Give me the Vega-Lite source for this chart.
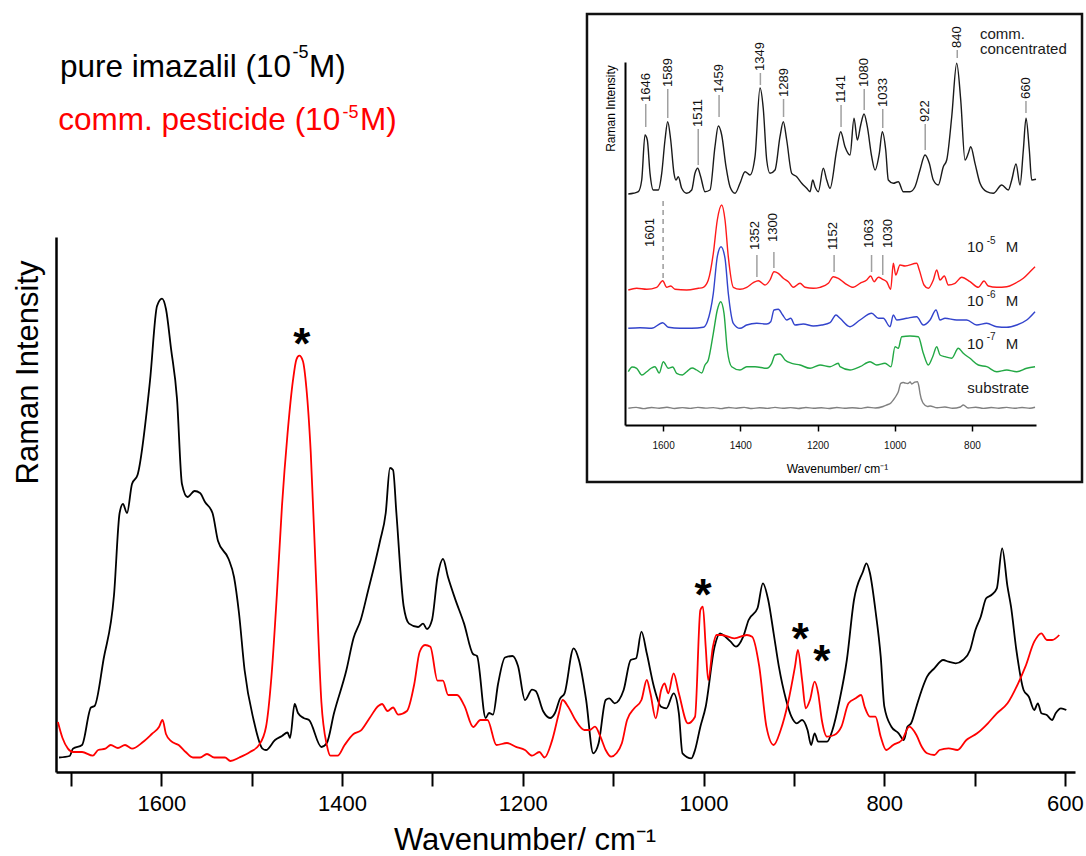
{
  "$schema": "https://vega.github.io/schema/vega-lite/v6.json",
  "background": "white",
  "padding": {"left": 12, "top": 12, "right": 0, "bottom": 0},
  "autosize": {"type": "pad"},
  "config": {"view": {"stroke": null}, "font": "Liberation Sans"},
  "bounds": "flush",
  "spacing": 175,
  "resolve": {"scale": {"color": "independent"}},
  "datasets": {
    "legendMain": [
      {"s": "imazalil", "t": "pure imazalil (10", "x": 4, "y": 348.3},
      {"s": "imazalil", "t": "M)", "x": 253, "y": 348.3},
      {"s": "pesticide", "t": "comm. pesticide (10", "x": 2.3, "y": 295},
      {"s": "pesticide", "t": "M)", "x": 304, "y": 295}
    ],
    "legendSup": [
      {"s": "imazalil", "t": "-5", "x": 236.5, "y": 367},
      {"s": "pesticide", "t": "-5", "x": 286.5, "y": 307}
    ],
    "box": [{"w": 1797.2, "w2": 514.8, "J": -57, "J2": 411}],
    "dash": [{"w": 1600, "J": 147, "J2": 228}],
    "ticks": [
      {"w": 1645, "J": 298, "J2": 321}, {"w": 1588, "J": 307, "J2": 336}, {"w": 1509, "J": 260, "J2": 296},
      {"w": 1455, "J": 308, "J2": 330}, {"w": 1348, "J": 340, "J2": 352}, {"w": 1288, "J": 308, "J2": 326},
      {"w": 1139, "J": 298, "J2": 320}, {"w": 1079, "J": 315, "J2": 336}, {"w": 1031, "J": 297, "J2": 316},
      {"w": 921, "J": 275, "J2": 301}, {"w": 838, "J": 367, "J2": 375}, {"w": 660, "J": 312, "J2": 324},
      {"w": 1357, "J": 148, "J2": 170}, {"w": 1313, "J": 157, "J2": 173}, {"w": 1157, "J": 153, "J2": 170},
      {"w": 1060, "J": 153, "J2": 170}, {"w": 1031, "J": 150, "J2": 170}
    ],
    "peaks": [
      {"t": "1646", "w": 1645, "J": 323}, {"t": "1589", "w": 1588, "J": 338}, {"t": "1511", "w": 1509, "J": 298},
      {"t": "1459", "w": 1455, "J": 332}, {"t": "1349", "w": 1348, "J": 354}, {"t": "1289", "w": 1288, "J": 328},
      {"t": "1141", "w": 1139, "J": 322}, {"t": "1080", "w": 1079, "J": 338}, {"t": "1033", "w": 1031, "J": 318},
      {"t": "922", "w": 921, "J": 303}, {"t": "840", "w": 838, "J": 377}, {"t": "660", "w": 660, "J": 326},
      {"t": "1601", "w": 1634, "J": 178}, {"t": "1352", "w": 1362, "J": 175}, {"t": "1300", "w": 1315, "J": 183},
      {"t": "1152", "w": 1160, "J": 175}, {"t": "1063", "w": 1066, "J": 177}, {"t": "1030", "w": 1017, "J": 177}
    ],
    "ann": [
      {"t": "comm.", "w": 779, "J": 386}, {"t": "concentrated", "w": 779, "J": 371},
      {"t": "10", "w": 812.7, "J": 173}, {"t": "M", "w": 712.4, "J": 173},
      {"t": "10", "w": 812.7, "J": 119}, {"t": "M", "w": 712.4, "J": 119},
      {"t": "10", "w": 812.7, "J": 76.4}, {"t": "M", "w": 712.4, "J": 76.4},
      {"t": "substrate", "w": 812, "J": 32}
    ],
    "sup": [
      {"t": "-5", "w": 761.6, "J": 181.5}, {"t": "-6", "w": 761.6, "J": 127.5}, {"t": "-7", "w": 761.6, "J": 85}
    ],
    "stars": [
      {"w": 1444.7, "I": 448}, {"w": 1000.6, "I": 196.6}, {"w": 892.8, "I": 153}, {"w": 869.1, "I": 130.6}
    ],
    "inset": [
      {"s":"c","w":1690.2,"J":231},{"s":"c","w":1677.2,"J":231.7},{"s":"c","w":1664.2,"J":233.3},{"s":"c","w":1655.4,"J":245},{"s":"c","w":1646.9,"J":290},{"s":"c","w":1640.9,"J":285},{"s":"c","w":1633.9,"J":251.7},{"s":"c","w":1625.4,"J":235},{"s":"c","w":1612.4,"J":235},{"s":"c","w":1603.6,"J":251.7},{"s":"c","w":1595.1,"J":285},{"s":"c","w":1588.1,"J":303.3},{"s":"c","w":1580.3,"J":285},{"s":"c","w":1571.8,"J":251.7},{"s":"c","w":1566.6,"J":245},{"s":"c","w":1560.6,"J":248.3},{"s":"c","w":1551.8,"J":236.7},{"s":"c","w":1538.9,"J":231.7},{"s":"c","w":1525.9,"J":235},{"s":"c","w":1517.4,"J":251.7},{"s":"c","w":1510.4,"J":256.7},{"s":"c","w":1502.6,"J":248.3},{"s":"c","w":1491.5,"J":233.3},{"s":"c","w":1478.5,"J":235},{"s":"c","w":1465.6,"J":278.3},{"s":"c","w":1457,"J":299},{"s":"c","w":1448.2,"J":290},{"s":"c","w":1437,"J":258.3},{"s":"c","w":1426.7,"J":238.3},{"s":"c","w":1413.7,"J":231.7},{"s":"c","w":1400.8,"J":241.7},{"s":"c","w":1387.8,"J":253.3},{"s":"c","w":1374.9,"J":250},{"s":"c","w":1361.9,"J":268.3},{"s":"c","w":1349,"J":337},{"s":"c","w":1340.4,"J":316},{"s":"c","w":1331.6,"J":265},{"s":"c","w":1323.1,"J":251.7},{"s":"c","w":1310.1,"J":255},{"s":"c","w":1297.2,"J":288.3},{"s":"c","w":1288.6,"J":303.3},{"s":"c","w":1279.8,"J":285},{"s":"c","w":1266.8,"J":251.7},{"s":"c","w":1253.9,"J":248.3},{"s":"c","w":1240.9,"J":241.7},{"s":"c","w":1228,"J":236.7},{"s":"c","w":1219.4,"J":233.3},{"s":"c","w":1212.4,"J":245},{"s":"c","w":1206.5,"J":238.3},{"s":"c","w":1197.9,"J":233.3},{"s":"c","w":1185,"J":256.7},{"s":"c","w":1176.2,"J":245},{"s":"c","w":1167.6,"J":236.7},{"s":"c","w":1150.3,"J":275},{"s":"c","w":1139.9,"J":293.3},{"s":"c","w":1128.8,"J":278.3},{"s":"c","w":1115.8,"J":270},{"s":"c","w":1105.4,"J":306.7},{"s":"c","w":1096.9,"J":285},{"s":"c","w":1088.1,"J":300},{"s":"c","w":1079.5,"J":311},{"s":"c","w":1071,"J":298.3},{"s":"c","w":1059.6,"J":268.3},{"s":"c","w":1051,"J":255},{"s":"c","w":1039.9,"J":271.7},{"s":"c","w":1032.1,"J":293.3},{"s":"c","w":1023.3,"J":275},{"s":"c","w":1016.6,"J":245},{"s":"c","w":1003.6,"J":241.7},{"s":"c","w":990.7,"J":243.3},{"s":"c","w":977.7,"J":233.3},{"s":"c","w":960.4,"J":233.3},{"s":"c","w":947.4,"J":238.3},{"s":"c","w":934.5,"J":255},{"s":"c","w":921.5,"J":270},{"s":"c","w":910.4,"J":261.7},{"s":"c","w":900,"J":245},{"s":"c","w":887.1,"J":240},{"s":"c","w":874.1,"J":258.3},{"s":"c","w":865.3,"J":265},{"s":"c","w":852.3,"J":308.3},{"s":"c","w":839.4,"J":361.7},{"s":"c","w":829,"J":325},{"s":"c","w":817.9,"J":265},{"s":"c","w":809.3,"J":271.7},{"s":"c","w":803.1,"J":278.3},{"s":"c","w":792,"J":261.7},{"s":"c","w":779,"J":241.7},{"s":"c","w":761.7,"J":233.3},{"s":"c","w":744.5,"J":231.7},{"s":"c","w":722.8,"J":240},{"s":"c","w":705.7,"J":235},{"s":"c","w":696.9,"J":245},{"s":"c","w":685.8,"J":261},{"s":"c","w":675.4,"J":240},{"s":"c","w":666.8,"J":275},{"s":"c","w":659.9,"J":306.7},{"s":"c","w":651.3,"J":275},{"s":"c","w":645.1,"J":245},{"s":"c","w":634,"J":245.7},
      {"s":"m5","w":1690.2,"J":135},{"s":"m5","w":1668.4,"J":136.7},{"s":"m5","w":1642.5,"J":135.7},{"s":"m5","w":1616.6,"J":137.7},{"s":"m5","w":1601,"J":144.3},{"s":"m5","w":1590.7,"J":137.7},{"s":"m5","w":1580.3,"J":139},{"s":"m5","w":1569.2,"J":135.7},{"s":"m5","w":1538.9,"J":135},{"s":"m5","w":1508.8,"J":136.7},{"s":"m5","w":1495.9,"J":137.7},{"s":"m5","w":1482.9,"J":145},{"s":"m5","w":1469.9,"J":171.7},{"s":"m5","w":1459.6,"J":205},{"s":"m5","w":1448.2,"J":220},{"s":"m5","w":1439.6,"J":205},{"s":"m5","w":1431.1,"J":168.3},{"s":"m5","w":1418.1,"J":137.7},{"s":"m5","w":1400.8,"J":135.7},{"s":"m5","w":1383.4,"J":137.7},{"s":"m5","w":1366.3,"J":142.3},{"s":"m5","w":1353.4,"J":144.3},{"s":"m5","w":1336,"J":140},{"s":"m5","w":1323.1,"J":145},{"s":"m5","w":1312.7,"J":153.3},{"s":"m5","w":1301.6,"J":151.7},{"s":"m5","w":1288.6,"J":146.7},{"s":"m5","w":1275.6,"J":143.3},{"s":"m5","w":1262.7,"J":137.7},{"s":"m5","w":1245.3,"J":141.7},{"s":"m5","w":1232.4,"J":137.7},{"s":"m5","w":1210.9,"J":136.7},{"s":"m5","w":1193.5,"J":137.7},{"s":"m5","w":1172,"J":141.7},{"s":"m5","w":1159.1,"J":148.3},{"s":"m5","w":1146.1,"J":146.7},{"s":"m5","w":1128.8,"J":141.7},{"s":"m5","w":1107.3,"J":137.7},{"s":"m5","w":1089.9,"J":141.7},{"s":"m5","w":1072.5,"J":145},{"s":"m5","w":1062.2,"J":149},{"s":"m5","w":1053.6,"J":143.3},{"s":"m5","w":1042.5,"J":147.7},{"s":"m5","w":1031.1,"J":145.7},{"s":"m5","w":1020.7,"J":143.3},{"s":"m5","w":1010.4,"J":135.7},{"s":"m5","w":1003.6,"J":161.7},{"s":"m5","w":997.4,"J":150},{"s":"m5","w":986.3,"J":160},{"s":"m5","w":973.3,"J":159},{"s":"m5","w":943,"J":161.7},{"s":"m5","w":936.3,"J":155},{"s":"m5","w":924.1,"J":140},{"s":"m5","w":913,"J":136.7},{"s":"m5","w":900,"J":145},{"s":"m5","w":891.2,"J":155},{"s":"m5","w":882.6,"J":145},{"s":"m5","w":871.5,"J":149},{"s":"m5","w":861.1,"J":140},{"s":"m5","w":843.8,"J":141.7},{"s":"m5","w":826.4,"J":147.7},{"s":"m5","w":804.9,"J":143.3},{"s":"m5","w":783.4,"J":137.7},{"s":"m5","w":768.6,"J":144},{"s":"m5","w":757.5,"J":139},{"s":"m5","w":735.7,"J":137.7},{"s":"m5","w":709.8,"J":138.3},{"s":"m5","w":688.3,"J":141.7},{"s":"m5","w":666.8,"J":146.7},{"s":"m5","w":649.5,"J":153.3},{"s":"m5","w":636.5,"J":158.3},
      {"s":"m6","w":1690.2,"J":96.7},{"s":"m6","w":1659.8,"J":97.3},{"s":"m6","w":1629.5,"J":96.7},{"s":"m6","w":1601,"J":102.3},{"s":"m6","w":1586.5,"J":97.7},{"s":"m6","w":1556.2,"J":96.7},{"s":"m6","w":1525.9,"J":96.7},{"s":"m6","w":1495.9,"J":97.7},{"s":"m6","w":1485.5,"J":103.3},{"s":"m6","w":1469.9,"J":131.7},{"s":"m6","w":1459.6,"J":168.3},{"s":"m6","w":1450,"J":178.3},{"s":"m6","w":1439.6,"J":166.7},{"s":"m6","w":1431.1,"J":131.7},{"s":"m6","w":1418.1,"J":101.7},{"s":"m6","w":1400.8,"J":96.7},{"s":"m6","w":1383.4,"J":100},{"s":"m6","w":1357.5,"J":101.7},{"s":"m6","w":1331.6,"J":101},{"s":"m6","w":1321.2,"J":103.3},{"s":"m6","w":1312.7,"J":115},{"s":"m6","w":1301.6,"J":115.7},{"s":"m6","w":1290.2,"J":110},{"s":"m6","w":1279.8,"J":105},{"s":"m6","w":1269.4,"J":106.7},{"s":"m6","w":1258.3,"J":100},{"s":"m6","w":1236.8,"J":101},{"s":"m6","w":1210.9,"J":99},{"s":"m6","w":1189.1,"J":100},{"s":"m6","w":1167.6,"J":102.3},{"s":"m6","w":1152.1,"J":110},{"s":"m6","w":1141.7,"J":106.7},{"s":"m6","w":1115.8,"J":98.3},{"s":"m6","w":1089.9,"J":105},{"s":"m6","w":1059.6,"J":111.7},{"s":"m6","w":1042.5,"J":106.7},{"s":"m6","w":1029.5,"J":106.7},{"s":"m6","w":1012.2,"J":98.3},{"s":"m6","w":1003.6,"J":110},{"s":"m6","w":994.8,"J":105},{"s":"m6","w":968.9,"J":106.7},{"s":"m6","w":943,"J":108.3},{"s":"m6","w":925.9,"J":100},{"s":"m6","w":908.5,"J":105},{"s":"m6","w":893,"J":115},{"s":"m6","w":882.6,"J":105},{"s":"m6","w":869.7,"J":106.7},{"s":"m6","w":839.4,"J":105},{"s":"m6","w":813.5,"J":105},{"s":"m6","w":787.6,"J":100},{"s":"m6","w":761.7,"J":101.7},{"s":"m6","w":735.7,"J":98.3},{"s":"m6","w":709.8,"J":97.7},{"s":"m6","w":683.9,"J":100},{"s":"m6","w":658,"J":105},{"s":"m6","w":636.5,"J":113.3},
      {"s":"m7","w":1690.2,"J":53.3},{"s":"m7","w":1680,"J":58},{"s":"m7","w":1668.4,"J":56.7},{"s":"m7","w":1655,"J":50},{"s":"m7","w":1642.5,"J":53.3},{"s":"m7","w":1630,"J":57},{"s":"m7","w":1621,"J":58.3},{"s":"m7","w":1610,"J":52},{"s":"m7","w":1599.5,"J":63.3},{"s":"m7","w":1586.5,"J":56.7},{"s":"m7","w":1575,"J":58},{"s":"m7","w":1564.8,"J":51.7},{"s":"m7","w":1550,"J":50},{"s":"m7","w":1538.9,"J":53.3},{"s":"m7","w":1525,"J":57},{"s":"m7","w":1513,"J":55},{"s":"m7","w":1500,"J":52},{"s":"m7","w":1491.5,"J":60},{"s":"m7","w":1482.9,"J":65},{"s":"m7","w":1469.9,"J":91.7},{"s":"m7","w":1459.6,"J":115},{"s":"m7","w":1450.8,"J":123.3},{"s":"m7","w":1442.2,"J":111.7},{"s":"m7","w":1433.7,"J":75},{"s":"m7","w":1422.3,"J":58.3},{"s":"m7","w":1400.8,"J":55},{"s":"m7","w":1383.4,"J":58.3},{"s":"m7","w":1361.9,"J":58.3},{"s":"m7","w":1331.6,"J":56.7},{"s":"m7","w":1318.7,"J":61.7},{"s":"m7","w":1310.1,"J":70},{"s":"m7","w":1297.2,"J":71},{"s":"m7","w":1284.2,"J":65},{"s":"m7","w":1266.8,"J":61.7},{"s":"m7","w":1245.3,"J":60},{"s":"m7","w":1219.4,"J":56.7},{"s":"m7","w":1193.5,"J":60},{"s":"m7","w":1167.6,"J":58.3},{"s":"m7","w":1146.1,"J":61.7},{"s":"m7","w":1141.7,"J":58.3},{"s":"m7","w":1115.8,"J":55},{"s":"m7","w":1089.9,"J":58.3},{"s":"m7","w":1064,"J":63.3},{"s":"m7","w":1046.6,"J":60},{"s":"m7","w":1025.1,"J":61.7},{"s":"m7","w":1009.6,"J":58.3},{"s":"m7","w":999.2,"J":78.3},{"s":"m7","w":990.7,"J":76.7},{"s":"m7","w":981.9,"J":88.3},{"s":"m7","w":960.4,"J":89},{"s":"m7","w":938.9,"J":88.3},{"s":"m7","w":925.9,"J":71.7},{"s":"m7","w":913,"J":60},{"s":"m7","w":901.6,"J":68.3},{"s":"m7","w":891.2,"J":78.3},{"s":"m7","w":882.6,"J":70},{"s":"m7","w":869.7,"J":68.3},{"s":"m7","w":852.3,"J":66.7},{"s":"m7","w":835.2,"J":76.7},{"s":"m7","w":822.3,"J":71.7},{"s":"m7","w":805,"J":66.7},{"s":"m7","w":783.4,"J":60},{"s":"m7","w":761.7,"J":58.3},{"s":"m7","w":735.7,"J":53.3},{"s":"m7","w":709.8,"J":55},{"s":"m7","w":683.9,"J":53.3},{"s":"m7","w":658,"J":56.7},{"s":"m7","w":636.5,"J":58.3},
      {"s":"sub","w":1690,"J":16.7},{"s":"sub","w":1670,"J":17.6},{"s":"sub","w":1650,"J":16.4},{"s":"sub","w":1630,"J":17.5},{"s":"sub","w":1610,"J":16.8},{"s":"sub","w":1590,"J":17.7},{"s":"sub","w":1570,"J":16.5},{"s":"sub","w":1550,"J":17.4},{"s":"sub","w":1530,"J":16.6},{"s":"sub","w":1510,"J":17.6},{"s":"sub","w":1490,"J":16.9},{"s":"sub","w":1470,"J":17.4},{"s":"sub","w":1450,"J":16.4},{"s":"sub","w":1430,"J":17.5},{"s":"sub","w":1410,"J":16.8},{"s":"sub","w":1390,"J":17.6},{"s":"sub","w":1370,"J":16.5},{"s":"sub","w":1350,"J":17.3},{"s":"sub","w":1330,"J":16.6},{"s":"sub","w":1310,"J":17.6},{"s":"sub","w":1290,"J":16.7},{"s":"sub","w":1270,"J":17.4},{"s":"sub","w":1250,"J":16.5},{"s":"sub","w":1230,"J":17.5},{"s":"sub","w":1210,"J":16.8},{"s":"sub","w":1190,"J":17.3},{"s":"sub","w":1170,"J":16.5},{"s":"sub","w":1150,"J":17.5},{"s":"sub","w":1130,"J":16.7},{"s":"sub","w":1110,"J":17.3},{"s":"sub","w":1090,"J":16.6},{"s":"sub","w":1070,"J":17.7},{"s":"sub","w":1050,"J":17},{"s":"sub","w":1030,"J":18.5},{"s":"sub","w":1020.7,"J":20},{"s":"sub","w":1010,"J":22},{"s":"sub","w":1003.6,"J":25},{"s":"sub","w":995,"J":30},{"s":"sub","w":990.7,"J":33.3},{"s":"sub","w":984.4,"J":41.7},{"s":"sub","w":978,"J":42.5},{"s":"sub","w":973.3,"J":42},{"s":"sub","w":966,"J":41.5},{"s":"sub","w":960,"J":43},{"s":"sub","w":955.9,"J":41},{"s":"sub","w":948,"J":42.8},{"s":"sub","w":941.4,"J":43.3},{"s":"sub","w":937,"J":38},{"s":"sub","w":934.5,"J":31.7},{"s":"sub","w":928,"J":23},{"s":"sub","w":925.9,"J":21.7},{"s":"sub","w":915,"J":18.5},{"s":"sub","w":908.5,"J":19},{"s":"sub","w":890,"J":17.2},{"s":"sub","w":870,"J":18},{"s":"sub","w":850,"J":16.8},{"s":"sub","w":830,"J":18},{"s":"sub","w":822.3,"J":20},{"s":"sub","w":810,"J":17},{"s":"sub","w":790,"J":17.8},{"s":"sub","w":770,"J":16.6},{"s":"sub","w":750,"J":17.5},{"s":"sub","w":730,"J":16.8},{"s":"sub","w":710,"J":17.6},{"s":"sub","w":690,"J":16.7},{"s":"sub","w":670,"J":17.5},{"s":"sub","w":650,"J":16.8},{"s":"sub","w":636.5,"J":17.7}
    ],
    "black": [
      {"w":1713.3,"I":14.5},{"w":1701.5,"I":16},{"w":1697.8,"I":23.4},{"w":1687.8,"I":27},{"w":1677.9,"I":64.5},{"w":1673.9,"I":66},{"w":1663.9,"I":113},{"w":1652.4,"I":177},{"w":1646.2,"I":259},{"w":1642.5,"I":268},{"w":1638,"I":259},{"w":1632.5,"I":288},{"w":1626.4,"I":297},{"w":1612.6,"I":391},{"w":1604.8,"I":466},{"w":1599.3,"I":473.4},{"w":1594.9,"I":463},{"w":1589.3,"I":423.4},{"w":1582.7,"I":373.4},{"w":1577.2,"I":288},{"w":1571.1,"I":275},{"w":1563.2,"I":281},{"w":1557.2,"I":279},{"w":1551.7,"I":270},{"w":1543.4,"I":259},{"w":1537.3,"I":231},{"w":1525.6,"I":213},{"w":1519.6,"I":195},{"w":1514.1,"I":159},{"w":1507.9,"I":102},{"w":1497.9,"I":52},{"w":1488.1,"I":23.4},{"w":1484.2,"I":22},{"w":1474.2,"I":32},{"w":1466.5,"I":36},{"w":1460.4,"I":39.5},{"w":1457.6,"I":34},{"w":1452.5,"I":68},{"w":1448.8,"I":59},{"w":1442.6,"I":54},{"w":1436.6,"I":52},{"w":1422.9,"I":25},{"w":1416.9,"I":29},{"w":1408.9,"I":59},{"w":1395.2,"I":102},{"w":1387.3,"I":134},{"w":1379.4,"I":152},{"w":1371.3,"I":181},{"w":1363.6,"I":209},{"w":1358,"I":231},{"w":1351.7,"I":259},{"w":1347,"I":304},{"w":1343.6,"I":302},{"w":1339.9,"I":259},{"w":1331.9,"I":166},{"w":1325.9,"I":148.4},{"w":1315.9,"I":145},{"w":1310.4,"I":148.4},{"w":1306,"I":143},{"w":1300.5,"I":152},{"w":1294.4,"I":195},{"w":1288.3,"I":213},{"w":1282.8,"I":195},{"w":1275,"I":173.4},{"w":1265,"I":148.4},{"w":1255.1,"I":118},{"w":1250.7,"I":116},{"w":1241.1,"I":54},{"w":1237.4,"I":59},{"w":1233,"I":57.4},{"w":1227.4,"I":88},{"w":1219.7,"I":114.5},{"w":1211.4,"I":116},{"w":1205.3,"I":106},{"w":1197.6,"I":72},{"w":1189.8,"I":82.4},{"w":1185.7,"I":81},{"w":1177.6,"I":61},{"w":1169.9,"I":54},{"w":1164.4,"I":59},{"w":1158.8,"I":73.4},{"w":1153.8,"I":78.7},{"w":1143.8,"I":123.7},{"w":1137.9,"I":112},{"w":1129.9,"I":72},{"w":1122.1,"I":18.7},{"w":1116.1,"I":28.7},{"w":1108.3,"I":72},{"w":1104.3,"I":73.7},{"w":1098.4,"I":68.7},{"w":1088.4,"I":82},{"w":1080.6,"I":112},{"w":1074.6,"I":113.7},{"w":1068.7,"I":140.3},{"w":1062.8,"I":118.7},{"w":1054.9,"I":85.3},{"w":1046.9,"I":65.3},{"w":1041.1,"I":63.7},{"w":1033.1,"I":78.7},{"w":1027.3,"I":58.7},{"w":1023.3,"I":18.7},{"w":1013.4,"I":13.7},{"w":1009.4,"I":22},{"w":1003.5,"I":45.3},{"w":997.6,"I":65.3},{"w":987.8,"I":125.3},{"w":981.8,"I":138.7},{"w":975.8,"I":135.3},{"w":970,"I":130.3},{"w":964,"I":125.3},{"w":956.1,"I":135.3},{"w":950.1,"I":152},{"w":940.3,"I":163.7},{"w":934.3,"I":188.7},{"w":928.4,"I":172},{"w":922.4,"I":138.7},{"w":916.6,"I":105.3},{"w":908.6,"I":72},{"w":902.7,"I":55.3},{"w":896.8,"I":48.7},{"w":890.9,"I":52},{"w":884.9,"I":42},{"w":880.9,"I":27},{"w":877.1,"I":38.7},{"w":873.1,"I":30.3},{"w":863.3,"I":30.3},{"w":857.3,"I":42},{"w":849.4,"I":72},{"w":841.4,"I":112},{"w":833.5,"I":172},{"w":823.6,"I":200.3},{"w":819.7,"I":208.7},{"w":815.8,"I":198.7},{"w":809.8,"I":162},{"w":803.9,"I":115.3},{"w":799.9,"I":65.3},{"w":792.1,"I":45.3},{"w":784.1,"I":38.7},{"w":778.3,"I":32},{"w":774.3,"I":45.3},{"w":770.3,"I":48.7},{"w":764.4,"I":65.3},{"w":758.5,"I":82},{"w":752.6,"I":95.3},{"w":744.6,"I":103.7},{"w":734.8,"I":112},{"w":728.8,"I":110.3},{"w":720.9,"I":108.7},{"w":712.9,"I":112},{"w":705,"I":122},{"w":699.1,"I":142},{"w":693.2,"I":155.3},{"w":687.2,"I":173.7},{"w":681.4,"I":177},{"w":675.4,"I":183.7},{"w":669.5,"I":223.7},{"w":663.6,"I":185.3},{"w":659.7,"I":165.3},{"w":653.8,"I":122},{"w":645.8,"I":82},{"w":640,"I":75.3},{"w":634,"I":62},{"w":630,"I":68.7},{"w":626.1,"I":58.7},{"w":620.1,"I":57},{"w":614.3,"I":52},{"w":610.3,"I":58.7},{"w":604.4,"I":63.7},{"w":598.5,"I":62}
    ],
    "red": [
      {"w":1714.5,"I":50},{"w":1709.4,"I":34},{"w":1703.4,"I":23.4},{"w":1697.6,"I":20},{"w":1687.8,"I":20},{"w":1675.8,"I":16.3},{"w":1669.9,"I":22},{"w":1661.9,"I":23.4},{"w":1656.1,"I":27},{"w":1648.1,"I":24},{"w":1640.2,"I":27},{"w":1632.5,"I":23.4},{"w":1620.4,"I":30},{"w":1610.6,"I":38},{"w":1602.6,"I":45},{"w":1598.7,"I":52},{"w":1594.9,"I":38},{"w":1588.9,"I":30.6},{"w":1580.9,"I":27},{"w":1573.1,"I":20},{"w":1565.1,"I":14.5},{"w":1557.2,"I":14.5},{"w":1549.5,"I":18},{"w":1541.4,"I":14.5},{"w":1529.6,"I":14.5},{"w":1523.6,"I":11},{"w":1513.7,"I":14.5},{"w":1501.9,"I":20},{"w":1491.9,"I":27},{"w":1484.2,"I":45},{"w":1478.2,"I":95},{"w":1472.2,"I":177},{"w":1466.5,"I":266.3},{"w":1460.4,"I":338},{"w":1454.4,"I":391.3},{"w":1450.5,"I":412.7},{"w":1447.3,"I":416.3},{"w":1443.4,"I":411},{"w":1439.5,"I":384},{"w":1434.7,"I":320},{"w":1428.9,"I":195},{"w":1422.9,"I":70},{"w":1416.9,"I":27},{"w":1412.9,"I":16.3},{"w":1405,"I":16.3},{"w":1397.2,"I":27},{"w":1387.3,"I":38},{"w":1379.4,"I":41.3},{"w":1369.5,"I":54},{"w":1359.6,"I":66.3},{"w":1355.8,"I":68},{"w":1349.7,"I":61},{"w":1343.6,"I":64.5},{"w":1337.9,"I":57.4},{"w":1328.2,"I":61},{"w":1320.1,"I":88},{"w":1314.2,"I":120},{"w":1308.2,"I":127},{"w":1302.3,"I":125.2},{"w":1294.4,"I":91.3},{"w":1288.4,"I":91.3},{"w":1282.6,"I":77},{"w":1272.8,"I":77},{"w":1264.7,"I":66.3},{"w":1254.9,"I":45},{"w":1246.9,"I":52},{"w":1239.1,"I":52},{"w":1229.2,"I":27},{"w":1217.5,"I":29},{"w":1207.5,"I":25.2},{"w":1197.6,"I":22},{"w":1189.8,"I":16.3},{"w":1181.7,"I":20},{"w":1175.9,"I":14.5},{"w":1167.9,"I":30.6},{"w":1160,"I":59},{"w":1156,"I":72},{"w":1149.8,"I":65.3},{"w":1141.8,"I":52},{"w":1131.9,"I":42},{"w":1126.1,"I":42},{"w":1120.1,"I":45.3},{"w":1114.1,"I":35.3},{"w":1108.3,"I":22},{"w":1102.3,"I":15.3},{"w":1096.4,"I":18.7},{"w":1090.4,"I":28.7},{"w":1084.6,"I":52},{"w":1076.6,"I":63.7},{"w":1068.7,"I":72},{"w":1062.8,"I":92},{"w":1058.8,"I":78.7},{"w":1052.9,"I":53.7},{"w":1046.9,"I":82},{"w":1043.1,"I":88.7},{"w":1039.1,"I":78.7},{"w":1033.1,"I":98.7},{"w":1027.3,"I":78.7},{"w":1017.3,"I":48.7},{"w":1009.4,"I":55.3},{"w":1003.5,"I":162},{"w":1000.7,"I":165.3},{"w":997.6,"I":125.3},{"w":994.8,"I":92},{"w":989.6,"I":125.3},{"w":985.7,"I":137},{"w":979.8,"I":137},{"w":965.9,"I":133.7},{"w":952.1,"I":137},{"w":946.2,"I":135.3},{"w":938.3,"I":105.3},{"w":930.4,"I":45.3},{"w":922.4,"I":27},{"w":914.6,"I":42},{"w":906.6,"I":68.7},{"w":898.8,"I":105.3},{"w":895.6,"I":122},{"w":890.9,"I":92},{"w":886.9,"I":63.7},{"w":882.2,"I":72},{"w":877.1,"I":90.3},{"w":873.1,"I":78.7},{"w":869.1,"I":52},{"w":863.3,"I":35.3},{"w":855.3,"I":37},{"w":847.4,"I":45.3},{"w":839.5,"I":68.7},{"w":831.6,"I":73.7},{"w":825.6,"I":77},{"w":821.7,"I":65.3},{"w":815.8,"I":55.3},{"w":809.8,"I":55.3},{"w":803.9,"I":35.3},{"w":797.9,"I":22},{"w":790.1,"I":27},{"w":780.3,"I":32},{"w":772.3,"I":45.3},{"w":764.4,"I":37},{"w":758.5,"I":25.3},{"w":752.6,"I":18.7},{"w":744.6,"I":17},{"w":738.8,"I":22},{"w":728.8,"I":23.7},{"w":719,"I":22},{"w":709.1,"I":32},{"w":697.2,"I":38.7},{"w":685.3,"I":48.7},{"w":675.4,"I":58.7},{"w":663.6,"I":68.7},{"w":651.8,"I":88.7},{"w":643.8,"I":105.3},{"w":634,"I":130.3},{"w":626.1,"I":138.7},{"w":620.1,"I":132},{"w":614.3,"I":132},{"w":606.3,"I":137}
    ]
  },
  "vconcat": [
    {
      "bounds": "flush",
      "spacing": 29,
      "resolve": {"scale": {"color": "independent"}},
      "hconcat": [
        {
          "width": 540,
          "height": 363,
          "encoding": {
            "x": {"field": "x", "type": "quantitative", "scale": {"domain": [0, 540], "nice": false, "zero": false}, "axis": null},
            "y": {"field": "y", "type": "quantitative", "scale": {"domain": [0, 363], "nice": false, "zero": false}, "axis": null},
            "text": {"field": "t", "type": "nominal"},
            "color": {"field": "s", "type": "nominal", "scale": {"domain": ["imazalil", "pesticide"], "range": ["#000000", "#ff0000"]}, "legend": null}
          },
          "layer": [
            {"data": {"name": "legendMain"}, "mark": {"type": "text", "fontSize": 31.5, "align": "left", "baseline": "alphabetic"}},
            {"data": {"name": "legendSup"}, "mark": {"type": "text", "fontSize": 18, "align": "left", "baseline": "alphabetic"}}
          ]
        },
        {
          "width": 411,
          "height": 363,
          "encoding": {
            "x": {"field": "w", "type": "quantitative", "scale": {"domain": [634, 1698.7], "reverse": true, "nice": false, "zero": false},
              "axis": {"values": [1600, 1400, 1200, 1000, 800], "format": "d", "tickSize": 6, "tickWidth": 1.5, "tickColor": "#000", "domainColor": "#000", "domainWidth": 2, "labelFontSize": 10, "labelColor": "#111", "labelPadding": 9, "labelFlush": false, "grid": false, "title": "Wavenumber/ cm⁻¹", "titleFontSize": 12, "titleFontWeight": "normal", "titleColor": "#000", "titleX": 212, "titleY": 47, "titleBaseline": "alphabetic"}},
            "y": {"field": "J", "type": "quantitative", "scale": {"domain": [0, 363], "nice": false, "zero": false},
              "axis": {"labels": false, "ticks": false, "grid": false, "domainColor": "#000", "domainWidth": 2, "title": "Raman Intensity", "titleFontSize": 12, "titleFontWeight": "normal", "titleColor": "#000", "titleX": -11, "titleY": 46, "titleBaseline": "alphabetic"}}
          },
          "layer": [
            {
              "data": {"name": "box"},
              "mark": {"type": "rect", "filled": false, "stroke": "#111111", "strokeWidth": 2.5},
              "encoding": {"x2": {"field": "w2"}, "y2": {"field": "J2"}}
            },
            {
              "data": {"name": "dash"},
              "mark": {"type": "rule", "color": "#9a9a9a", "strokeWidth": 1.5, "strokeDash": [5, 4]},
              "encoding": {"y2": {"field": "J2"}}
            },
            {
              "data": {"name": "ticks"},
              "mark": {"type": "rule", "color": "#a0a0a0", "strokeWidth": 1.5},
              "encoding": {"y2": {"field": "J2"}}
            },
            {
              "data": {"name": "inset"},
              "mark": {"type": "line", "strokeWidth": 1.4, "interpolate": "monotone"},
              "encoding": {
                "color": {"field": "s", "type": "nominal", "scale": {"domain": ["c", "m5", "m6", "m7", "sub"], "range": ["#1a1a1a", "#ff1a1a", "#3344cc", "#22a844", "#808080"]}, "legend": null}
              }
            },
            {
              "data": {"name": "peaks"},
              "mark": {"type": "text", "angle": 270, "align": "left", "baseline": "middle", "fontSize": 13, "color": "#111111"},
              "encoding": {"text": {"field": "t", "type": "nominal"}}
            },
            {
              "data": {"name": "ann"},
              "mark": {"type": "text", "align": "left", "baseline": "alphabetic", "fontSize": 15, "color": "#1a1a1a"},
              "encoding": {"text": {"field": "t", "type": "nominal"}}
            },
            {
              "data": {"name": "sup"},
              "mark": {"type": "text", "align": "left", "baseline": "alphabetic", "fontSize": 10, "color": "#1a1a1a"},
              "encoding": {"text": {"field": "t", "type": "nominal"}}
            }
          ]
        }
      ]
    },
    {
      "width": 1019,
      "height": 535,
      "encoding": {
        "x": {"field": "w", "type": "quantitative", "scale": {"domain": [588.9, 1716.6], "reverse": true, "nice": false, "zero": false},
          "axis": {"values": [1700, 1600, 1500, 1400, 1300, 1200, 1100, 1000, 900, 800, 700, 600], "format": "d", "labelExpr": "datum.value % 200 === 0 ? datum.label : ''", "tickSize": 14, "tickWidth": 2, "tickColor": "#000", "domainColor": "#000", "domainWidth": 2.5, "labelFontSize": 22, "labelColor": "#000", "labelPadding": 7, "labelFlush": false, "labelOverlap": false, "grid": false, "title": "Wavenumber/ cm⁻¹", "titleFontSize": 31, "titleFontWeight": "normal", "titleColor": "#000", "titleX": 468.5, "titleY": 77, "titleBaseline": "alphabetic"}},
        "y": {"field": "I", "type": "quantitative", "scale": {"domain": [0, 535], "nice": false, "zero": false},
          "axis": {"labels": false, "ticks": false, "grid": false, "domainColor": "#000", "domainWidth": 2.5, "title": "Raman Intensity", "titleFontSize": 31, "titleFontWeight": "normal", "titleColor": "#000", "titleX": -18.5, "titleY": 135, "titleBaseline": "alphabetic"}}
      },
      "layer": [
        {"data": {"name": "black"}, "mark": {"type": "line", "color": "#000000", "strokeWidth": 1.8, "interpolate": "monotone"}},
        {"data": {"name": "red"}, "mark": {"type": "line", "color": "#ff0000", "strokeWidth": 1.8, "interpolate": "monotone"}},
        {"data": {"name": "stars"}, "mark": {"type": "text", "text": "*", "fontSize": 44, "fontWeight": "bold", "align": "center", "baseline": "top", "color": "#000000"}}
      ]
    }
  ]
}
